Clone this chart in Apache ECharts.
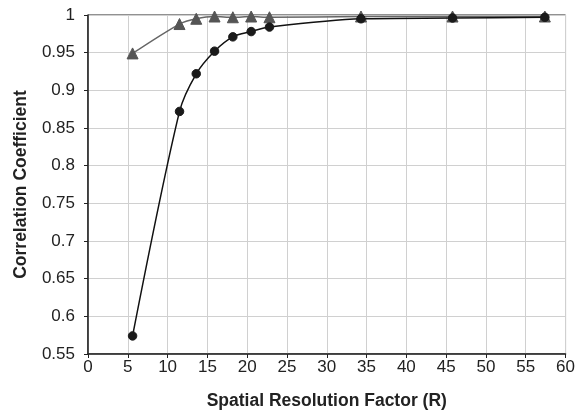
<!DOCTYPE html>
<html><head><meta charset="utf-8">
<script src="https://cdn.jsdelivr.net/npm/echarts@6/dist/echarts.min.js"></script>
<style>html,body{margin:0;padding:0;background:#fff}#c{width:578px;height:415px}</style>
</head><body><div id="c"></div>
<script>
const circleX = [5.6, 11.5, 13.6, 15.9, 18.2, 20.5, 22.8, 34.3, 45.8, 57.4];
const circleY = [0.574, 0.872, 0.922, 0.952, 0.971, 0.978, 0.984, 0.995, 0.996, 0.997];
const triX = [5.6, 11.5, 13.6, 15.9, 18.2, 20.5, 22.8, 34.3, 45.8, 57.4];
const triY = [0.949, 0.988, 0.995, 0.998, 0.997, 0.998, 0.997, 0.998, 0.998, 0.998];
const xTitle = 'Spatial Resolution Factor (R)';
const yTitle = 'Correlation Coefficient';

const font = 'Liberation Sans, Arial, sans-serif';
const chart = echarts.init(document.getElementById('c'), null, {renderer: 'canvas'});
chart.setOption({
  animation: false,
  backgroundColor: '#fff',
  grid: {left: 88, right: 12, top: 15, bottom: 59, show: true, borderColor: '#222', borderWidth: 1},
  xAxis: {
    type: 'value', min: 0, max: 60, interval: 5,
    name: xTitle, nameLocation: 'middle', nameGap: 38,
    nameTextStyle: {fontFamily: font, fontWeight: 'bold', fontSize: 17.5, color: '#222'},
    axisLine: {show: true, onZero: false, lineStyle: {color: '#222', width: 1.5}},
    axisTick: {show: true, inside: false, length: 4, lineStyle: {color: '#222'}},
    axisLabel: {fontFamily: font, fontSize: 17, color: '#222', margin: 5},
    splitLine: {show: true, lineStyle: {color: '#d0d0d0', width: 1}}
  },
  yAxis: {
    type: 'value', min: 0.55, max: 1, interval: 0.05,
    name: yTitle, nameLocation: 'middle', nameGap: 58, nameRotate: 90,
    nameTextStyle: {fontFamily: font, fontWeight: 'bold', fontSize: 17.5, color: '#222'},
    axisLine: {show: true, lineStyle: {color: '#222', width: 1.5}},
    axisTick: {show: true, inside: false, length: 4, lineStyle: {color: '#222'}},
    axisLabel: {fontFamily: font, fontSize: 17, color: '#222', margin: 13,
      formatter: v => String(parseFloat(v.toFixed(2)))},
    splitLine: {show: true, lineStyle: {color: '#d0d0d0', width: 1}}
  },
  series: [
    {
      type: 'line', smooth: 0.3,
      data: triX.map((x, i) => [x, triY[i]]),
      symbol: 'triangle', symbolSize: 11,
      lineStyle: {color: '#666', width: 1.5},
      itemStyle: {color: '#555', borderColor: '#555'},
      z: 2
    },
    {
      type: 'line', smooth: 0.3,
      data: circleX.map((x, i) => [x, circleY[i]]),
      symbol: 'circle', symbolSize: 8.5,
      lineStyle: {color: '#111', width: 1.5},
      itemStyle: {color: '#1a1a1a', borderColor: '#1a1a1a'},
      z: 3
    }
  ]
});
</script></body></html>
